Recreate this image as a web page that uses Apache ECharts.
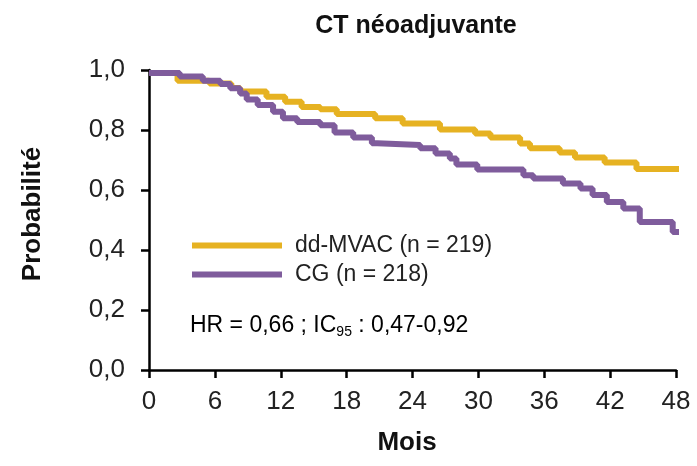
<!DOCTYPE html>
<html>
<head>
<meta charset="utf-8">
<script src="https://cdn.jsdelivr.net/npm/echarts@6/dist/echarts.min.js"></script>
<style>html,body{margin:0;padding:0;background:#fff}#c{width:697px;height:466px}</style>
</head>
<body>
<div id="c"></div>
<script>
// Months (time of each step) and survival probability from that time on
const ddmvacTime = [0, 2.6, 5.5, 7.5, 8.3, 10.7, 12.4, 13.9, 15.6, 17.1, 20.6, 23.1, 26.5, 29.7, 31.1, 33.8, 34.7, 37.4, 38.8, 41.5, 44.4, 49.3];
const ddmvacSurv = [0.99, 0.964, 0.955, 0.94, 0.928, 0.911, 0.894, 0.877, 0.869, 0.853, 0.839, 0.822, 0.802, 0.788, 0.775, 0.755, 0.739, 0.725, 0.708, 0.692, 0.670, 0.670];
const cgTime = [0, 2.8, 4.9, 6.5, 7.4, 8.3, 8.9, 9.9, 11.3, 12.2, 13.5, 15.6, 16.9, 18.6, 20.3, 20.8, 24.7, 26.1, 27.4, 28.0, 29.9, 34.1, 35.0, 37.7, 39.3, 40.4, 41.7, 43.2, 44.7, 47.7, 49.3];
const cgSurv = [0.99, 0.978, 0.964, 0.953, 0.939, 0.922, 0.902, 0.883, 0.861, 0.839, 0.827, 0.816, 0.792, 0.775, 0.756, 0.750, 0.739, 0.722, 0.705, 0.685, 0.668, 0.649, 0.638, 0.622, 0.605, 0.583, 0.560, 0.538, 0.493, 0.460, 0.460];
const seriesNames = ['dd-MVAC (n = 219)', 'CG (n = 218)'];
const xTicks = [0, 6, 12, 18, 24, 30, 36, 42, 48];
const yTicks = [0, 0.2, 0.4, 0.6, 0.8, 1.0];

const FONT = '"Liberation Sans", Arial, sans-serif';
const YELLOW = '#E6B222';
const PURPLE = '#7F5C9C';

const pair = (t, s) => t.map((v, i) => [v, s[i]]);

const chart = echarts.init(document.getElementById('c'), null, {renderer: 'canvas'});
chart.setOption({
  backgroundColor: '#fff',
  animation: false,
  title: {
    text: 'CT néoadjuvante',
    left: 411, top: 9, textAlign: 'center',
    textStyle: {fontFamily: FONT, fontSize: 25, fontWeight: 'bold', color: '#111'}
  },
  grid: {left: 149, right: 21, top: 70, bottom: 96},
  legend: {
    orient: 'vertical',
    left: 187, top: 229,
    padding: 5,
    icon: 'rect',
    itemWidth: 90, itemHeight: 6,
    itemGap: 6,
    data: seriesNames,
    textStyle: {fontFamily: FONT, fontSize: 23, color: '#222', padding: [0, 0, 0, 8], lineHeight: 23}
  },
  xAxis: {
    type: 'value', min: xTicks[0], max: xTicks[xTicks.length - 1], interval: 6,
    axisLine: {show: true, onZero: false, lineStyle: {color: '#000', width: 2.5}},
    axisTick: {show: true, length: 8, lineStyle: {color: '#000', width: 2.5}},
    splitLine: {show: false},
    axisLabel: {margin: 19, fontFamily: FONT, fontSize: 26, color: '#222'}
  },
  yAxis: {
    type: 'value', min: yTicks[0], max: yTicks[yTicks.length - 1], interval: 0.2,
    axisLine: {show: true, onZero: false, lineStyle: {color: '#000', width: 2.5}},
    axisTick: {show: true, length: 8, lineStyle: {color: '#000', width: 2.5}},
    splitLine: {show: false},
    axisLabel: {margin: 24, fontFamily: FONT, fontSize: 26, color: '#222',
      formatter: v => v.toFixed(1).replace('.', ',')}
  },
  series: [
    {name: seriesNames[0], type: 'line', step: 'end', showSymbol: false, clip: false,
     color: YELLOW, lineStyle: {color: YELLOW, width: 6}, data: pair(ddmvacTime, ddmvacSurv), z: 2},
    {name: seriesNames[1], type: 'line', step: 'end', showSymbol: false, clip: false,
     color: PURPLE, lineStyle: {color: PURPLE, width: 6}, data: pair(cgTime, cgSurv), z: 3}
  ],
  graphic: [
    {type: 'text', left: 190, top: 314,
     style: {
       text: '{a|HR = 0,66 ; IC}{s|95}{a| : 0,47-0,92}',
       rich: {
         a: {fontFamily: FONT, fontSize: 23, color: '#222', lineHeight: 28, verticalAlign: 'middle'},
         s: {fontFamily: FONT, fontSize: 14, color: '#222', lineHeight: 14, verticalAlign: 'bottom'}
       }
     }},
    {type: 'text', x: 407, y: 443,
     style: {text: 'Mois', fontFamily: FONT, fontSize: 26, fontWeight: 'bold', fill: '#111',
       align: 'center', verticalAlign: 'middle'}},
    {type: 'text', x: 33, y: 214, rotation: Math.PI / 2,
     style: {text: 'Probabilité', fontFamily: FONT, fontSize: 26, fontWeight: 'bold', fill: '#111',
       align: 'center', verticalAlign: 'middle'}}
  ]
});
</script>
</body>
</html>
